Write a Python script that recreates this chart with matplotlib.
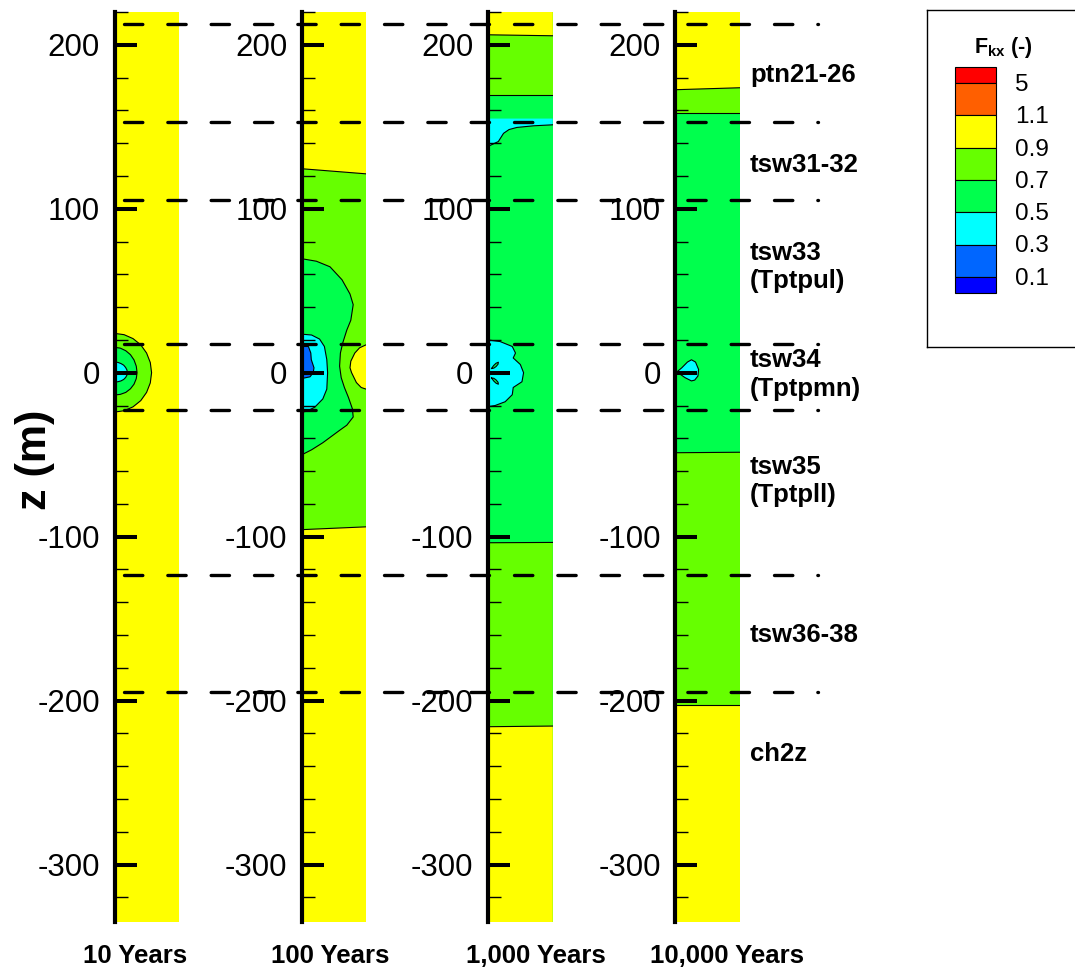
import matplotlib
matplotlib.use('Agg')
import matplotlib.pyplot as plt
from matplotlib.ticker import MultipleLocator, FixedLocator
from matplotlib.patches import Rectangle

plt.rcParams['font.family'] = ['Liberation Sans', 'DejaVu Sans']
plt.rcParams['mathtext.fontset'] = 'custom'
plt.rcParams['mathtext.bf'] = 'Liberation Sans:bold'
plt.rcParams['mathtext.rm'] = 'Liberation Sans'
plt.rcParams['mathtext.it'] = 'Liberation Sans:italic'

# ------------------------------------------------------------------ data
LEVELS = [0.1, 0.3, 0.5, 0.7, 0.9, 1.1, 5]
# band i lies between LEVELS[i-1] and LEVELS[i]
BAND_COLORS = ['#0000FF', '#0066FF', '#00FFFF', '#00FF4D',
               '#66FF00', '#FFFF00', '#FF5F00', '#FF0000']
PANEL_TITLES = ['10 Years', '100 Years', '1,000 Years', '10,000 Years']
Z_TICKS = [-300, -200, -100, 0, 100, 200]
Z_RANGE = (-335, 220)
X_RANGE = (0, 40)
LAYER_BOUNDARIES = [212.6, 152.8, 105.5, 17.5, -22.8, -123.2, -194.5]
LAYER_LABELS = ['ptn21-26', 'tsw31-32', 'tsw33\n(Tptpul)', 'tsw34\n(Tptpmn)',
                'tsw35\n(Tptpll)', 'tsw36-38', 'ch2z']

# --- 10 years: background band 5 (0.9-1.1)
p1_bg = 5
p1_iso09_x = [0, 5.96, 11.5, 16.3, 19.9, 22.2, 23, 22.2, 19.9, 16.3, 11.5, 5.96, 0]
p1_iso09_z = [24, 23.2, 20.8, 17, 12, 6.2, 0, -6.2, -12, -17, -20.8, -23.2, -24]
p1_iso07_x = [0, 3.6, 7, 9.9, 12.1, 13.5, 14, 13.5, 12.1, 9.9, 7, 3.6, 0]
p1_iso07_z = [15.5, 15, 13.4, 11, 7.8, 4, 0, -3.6, -7, -9.8, -12, -13.2, -13.6]
p1_iso05_x = [0, 2.1, 4, 5.7, 6.9, 7.7, 8, 7.7, 6.9, 5.7, 4, 2.1, 0]
p1_iso05_z = [6.5, 6.3, 5.6, 4.6, 3.2, 1.7, 0, -1.5, -2.9, -4.1, -5, -5.5, -5.7]

# --- 100 years: background band 4 (0.7-0.9)
p2_bg = 4
p2_iso09_top_x = [0, 40]
p2_iso09_top_z = [124.4, 121.3]
p2_iso09_bot_x = [0, 40]
p2_iso09_bot_z = [-95.7, -94.0]
p2_iso09_bulge_x = [40, 36, 33, 30.5, 30, 31, 34, 37, 40]
p2_iso09_bulge_z = [17, 15.2, 12, 7, 3, 0, -6, -9, -10]
p2_iso07_x = [0, 9, 17.5, 25, 30, 32, 30.5, 28, 25.5, 24, 23.5, 24.5, 26.5,
              29, 31.5, 32, 28, 23.7, 13, 6, 0]
p2_iso07_z = [69.5, 68, 64.6, 56.7, 48, 41.5, 32, 26, 18.3, 12, 4, -3, -9,
              -15, -22, -27, -32, -35, -42.7, -47, -50]
p2_iso05_x = [0, 6, 11, 14, 15.5, 16, 15.5, 13, 8, 3, 0]
p2_iso05_z = [23.5, 23, 20.5, 16, 8, 0, -10, -16, -21, -23.5, -24]
p2_iso03_x = [0, 4, 5.5, 5.8, 7.5, 7, 5, 0]
p2_iso03_z = [16, 16, 12, 8, 3, 0, -2.5, -3.5]

# --- 1,000 years: background band 3 (0.5-0.7)
p3_bg = 3
p3_iso07_top_x = [0, 40]
p3_iso07_top_z = [169.5, 169.5]
p3_iso09_top_x = [0, 40]
p3_iso09_top_z = [206.1, 205.5]
p3_strip_x = [0, 1.25, 6.4, 9.6, 13, 17.9, 28.3, 40]
p3_strip_z = [138, 138.6, 141, 146, 148.3, 149.6, 150.6, 151.2]
p3_strip_top = 155
p3_bump_x = [0, 7.5, 15, 17, 15.6, 20, 22, 21, 15.6, 15, 10.6, 4.4, 0]
p3_bump_z = [20, 19, 16, 12, 9, 5, 0, -5.5, -9, -13.4, -17.7, -20, -20.7]
p3_leaf1_x = [2.2, 3.5, 5, 6.4, 6.2, 5, 3.6, 2.2]
p3_leaf1_z = [2.6, 4.4, 5.8, 6.4, 5.2, 3.8, 2.8, 2.6]
p3_leaf2_x = [2.2, 3.5, 5, 6.4, 6.2, 5, 3.6, 2.2]
p3_leaf2_z = [-3.2, -5.0, -6.4, -7.0, -5.8, -4.4, -3.4, -3.2]
p3_iso07_bot_x = [0, 40]
p3_iso07_bot_z = [-103.7, -103.5]
p3_iso09_bot_x = [0, 40]
p3_iso09_bot_z = [-215.9, -215.5]

# --- 10,000 years: background band 3 (0.5-0.7)
p4_bg = 3
p4_iso07_top_x = [0, 40]
p4_iso07_top_z = [158.5, 158.5]
p4_iso09_top_x = [0, 40]
p4_iso09_top_z = [172.6, 173.8]
p4_iso07_bot_x = [0, 40]
p4_iso07_bot_z = [-48.8, -48.5]
p4_iso09_bot_x = [0, 40]
p4_iso09_bot_z = [-202.4, -202.4]
p4_drop_x = [1, 4, 7.5, 10, 12.5, 14.4, 14, 12, 10, 6, 1]
p4_drop_z = [0.5, 3, 6.5, 7.9, 6.5, 2, -2, -4.5, -5, -3, 0.5]

# ------------------------------------------------------------------ build
ZT, ZB = Z_RANGE[1], Z_RANGE[0]
XL, XR = X_RANGE
TO_TOP = ([XR, XL], [ZT, ZT])
TO_BOT = ([XR, XL], [ZB, ZB])
NONE = ([], [])

panels = [
    (p1_bg, [
        (4, p1_iso09_x, p1_iso09_z, NONE),
        (3, p1_iso07_x, p1_iso07_z, NONE),
        (2, p1_iso05_x, p1_iso05_z, NONE),
    ]),
    (p2_bg, [
        (5, p2_iso09_top_x, p2_iso09_top_z, TO_TOP),
        (5, p2_iso09_bot_x, p2_iso09_bot_z, TO_BOT),
        (5, p2_iso09_bulge_x, p2_iso09_bulge_z, NONE),
        (3, p2_iso07_x, p2_iso07_z, NONE),
        (2, p2_iso05_x, p2_iso05_z, NONE),
        (1, p2_iso03_x, p2_iso03_z, NONE),
    ]),
    (p3_bg, [
        (4, p3_iso07_top_x, p3_iso07_top_z, TO_TOP),
        (5, p3_iso09_top_x, p3_iso09_top_z, TO_TOP),
        (2, p3_strip_x, p3_strip_z, ([XR, XL], [p3_strip_top, p3_strip_top])),
        (4, p3_iso07_bot_x, p3_iso07_bot_z, TO_BOT),
        (5, p3_iso09_bot_x, p3_iso09_bot_z, TO_BOT),
        (2, p3_bump_x, p3_bump_z, NONE),
        (3, p3_leaf1_x, p3_leaf1_z, NONE),
        (3, p3_leaf2_x, p3_leaf2_z, NONE),
    ]),
    (p4_bg, [
        (4, p4_iso07_top_x, p4_iso07_top_z, TO_TOP),
        (5, p4_iso09_top_x, p4_iso09_top_z, TO_TOP),
        (4, p4_iso07_bot_x, p4_iso07_bot_z, TO_BOT),
        (5, p4_iso09_bot_x, p4_iso09_bot_z, TO_BOT),
        (2, p4_drop_x, p4_drop_z, NONE),
    ]),
]

# ------------------------------------------------------------------ figure
W, H = 1075, 969
fig = plt.figure(figsize=(W / 100, H / 100), dpi=100)

ax_top_px, ax_bot_px = 12, 922
lefts_px = [114.5, 302, 488, 675.3]
rights_px = [179, 366, 552.7, 740]
title_cx_px = [135, 330, 536, 727]

for i, (bg, regions) in enumerate(panels):
    ax = fig.add_axes([lefts_px[i] / W, (H - ax_bot_px) / H,
                       (rights_px[i] - lefts_px[i]) / W, (ax_bot_px - ax_top_px) / H])
    ax.set_xlim(*X_RANGE)
    ax.set_ylim(*Z_RANGE)
    ax.set_facecolor(BAND_COLORS[bg])
    for band, cx, cz, (ex, ez) in regions:
        ax.fill(list(cx) + list(ex), list(cz) + list(ez),
                color=BAND_COLORS[band], lw=0, zorder=1)
        ax.plot(cx, cz, color='k', lw=0.8, zorder=1.2, solid_joinstyle='round')
    for s in ['top', 'right', 'bottom']:
        ax.spines[s].set_visible(False)
    ax.spines['left'].set_linewidth(3.0)
    ax.yaxis.set_major_locator(FixedLocator(Z_TICKS))
    ax.yaxis.set_minor_locator(MultipleLocator(20))
    ax.set_yticklabels([str(t) for t in Z_TICKS])
    ax.tick_params(axis='y', which='major', direction='in', length=15.8, width=2.9,
                   pad=10.4, labelsize=22.5, left=True, right=False)
    ax.tick_params(axis='y', which='minor', direction='in', length=9.4, width=1.0,
                   left=True, right=False)
    ax.tick_params(axis='x', bottom=False, labelbottom=False)
    fig.text(title_cx_px[i] / W, 1 - 963 / H, PANEL_TITLES[i], ha='center',
             va='baseline', fontsize=18.5, fontweight='bold')

# dashed layer boundaries over everything
ov = fig.add_axes([0, (H - ax_bot_px) / H, 1, (ax_bot_px - ax_top_px) / H])
ov.set_xlim(0, W)
ov.set_ylim(*Z_RANGE)
ov.axis('off')
ov.patch.set_visible(False)
for zb in LAYER_BOUNDARIES:
    ov.plot([123.5, 818], [zb, zb], color='k', lw=2.4, dashes=(5.5, 7.5),
            dash_capstyle='round')

# layer labels
label_baselines_px = [82, 172, (260, 288), (367, 396), (474, 502), 642, 761]
for lab, bl in zip(LAYER_LABELS, label_baselines_px):
    lines = lab.split('\n')
    if not isinstance(bl, tuple):
        bl = (bl,)
    for ln, b in zip(lines, bl):
        fig.text(750 / W, 1 - b / H, ln, ha='left', va='baseline',
                 fontsize=18.5, fontweight='bold')

# axis label
fig.text(35 / W, 1 - 460 / H, 'z (m)', rotation=90, ha='center', va='center',
         fontsize=31, fontweight='bold')

# legend box
lx0, lx1, ly0, ly1 = 927, 1085, 10, 347
lax = fig.add_axes([lx0 / W, (H - ly1) / H, (lx1 - lx0) / W, (ly1 - ly0) / H])
lax.set_xlim(lx0, lx1)
lax.set_ylim(ly1, ly0)
lax.set_xticks([])
lax.set_yticks([])
for s in lax.spines.values():
    s.set_linewidth(1.0)
lax.text(1003, 53, r'$\mathbf{F}_{\mathbf{kx}}$ (-)', ha='center', va='baseline',
         fontsize=15.5, fontweight='bold')
sw_x0, sw_w = 955, 41
edges = [67, 83]
for k in range(6):
    edges.append(edges[-1] + 32.3)
edges.append(edges[-1] + 16)
nb = len(BAND_COLORS)
for j in range(nb):
    band = nb - 1 - j
    lax.add_patch(Rectangle((sw_x0, edges[j]), sw_w, edges[j + 1] - edges[j],
                            facecolor=BAND_COLORS[band], edgecolor='k', lw=0.8))
for j, lev in enumerate(reversed(LEVELS)):
    lax.text(1015, edges[j + 1] + 2, f'{lev:g}', ha='left', va='center',
             fontsize=17.5)

fig.savefig('out.png', dpi=100)
